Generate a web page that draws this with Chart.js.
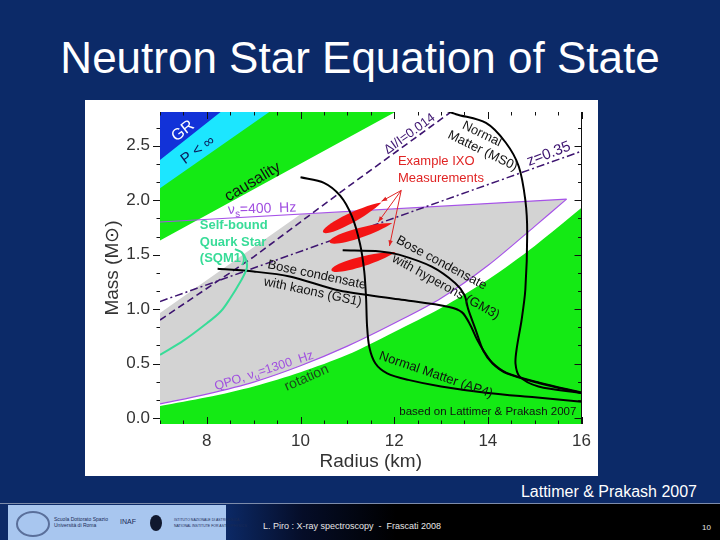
<!DOCTYPE html>
<html>
<head>
<meta charset="utf-8">
<title>Neutron Star Equation of State</title>
<script src="https://cdn.jsdelivr.net/npm/chart.js@4.4.1/dist/chart.umd.min.js"></script>
<style>
  html, body { margin:0; padding:0; }
  body { width:720px; height:540px; overflow:hidden; position:relative; background:#0c2a68; font-family:'Liberation Sans', Arial, sans-serif; }
  #title { position:absolute; left:0; top:33px; width:720px; text-align:center; color:#fff; font-size:44px; line-height:50px; }
  #panel { position:absolute; left:85px; top:100px; width:513px; height:376px; background:#fff; }
  #panel canvas { display:block; }
  #credit { position:absolute; right:23px; top:482px; color:#fff; font-size:16px; line-height:19px; }
  #footer { position:absolute; left:0; top:503px; width:720px; height:37px; box-sizing:border-box; border-top:1px solid #7d8cab;
            background:linear-gradient(90deg,#0c2a68 0%,#0c2a68 31%,#050d28 42%,#000 55%,#000 100%); }
  #logos { position:absolute; left:8px; top:505px; width:218px; height:35px; background:#a8c6ef; }
  .lg { position:absolute; color:#1a2a55; font-size:5px; line-height:6px; white-space:nowrap; }
  #foottext { position:absolute; left:263px; top:521px; color:#e6e6e6; font-size:9px; line-height:11px; white-space:nowrap; }
  #pagenum { position:absolute; left:702px; top:523px; color:#e6e6e6; font-size:8px; line-height:10px; }
</style>
</head>
<body>
<div id="title">Neutron Star Equation of State</div>
<div id="panel"><canvas id="c" width="513" height="376"></canvas></div>
<div id="credit">Lattimer &amp; Prakash 2007</div>
<div id="footer"></div>
<div id="logos">
  <div style="position:absolute;left:8px;top:6px;width:30px;height:22px;border:2px solid #5a6f9a;border-radius:50%;"></div>
  <div class="lg" style="left:46px;top:11px;">Scuola Dottorato Spazio<br>Università di Roma</div>
  <div class="lg" style="left:112px;top:14px;font-size:7px;">INAF</div>
  <div style="position:absolute;left:142px;top:10px;width:12px;height:16px;background:#10182e;border-radius:50%;"></div>
  <div class="lg" style="left:166px;top:12px;font-size:3.5px;">ISTITUTO NAZIONALE DI ASTROFISICA<br>NATIONAL INSTITUTE FOR ASTROPHYSICS</div>
</div>
<div id="foottext">L. Piro : X-ray spectroscopy &nbsp;- &nbsp;Frascati 2008</div>
<div id="pagenum">10</div>

<script>
// ---------------- data ----------------
const xTicks = [8, 10, 12, 14, 16];
const yTicks = [0.0, 0.5, 1.0, 1.5, 2.0, 2.5];

// excluded-region boundaries (Radius km, Mass Msun)
const grR = [7, 9.5],    grM = [2.37, 3.22];
const pinfR = [7, 10],   pinfM = [2.11, 3.01];
const causR = [7, 13],   causM = [1.63, 3.04];
const rotR = [7, 8, 9, 10, 11, 12, 13, 14, 15, 16];
const rotM = [0.11, 0.19, 0.29, 0.42, 0.58, 0.79, 1.01, 1.27, 1.58, 1.93];
// allowed (grey) region
const qpoR = [7, 8, 9, 10, 11, 12, 13, 14, 15, 15.68];
const qpoM = [0.13, 0.22, 0.33, 0.48, 0.66, 0.87, 1.10, 1.40, 1.76, 2.01];
const nuR = [7, 15.68],  nuM = [1.80, 2.01];
const greyTopR = [7, 10.0, 15.68], greyTopM = [0.965, 1.87, 2.01];
// constraint lines
const dIR = [7, 9, 11, 13.5], dIM = [0.90, 1.48, 2.12, 2.90];
const zR = [7, 16], zM = [1.07, 2.45];
// equations of state
const sqmR = [7.0, 7.5, 8.0, 8.3, 8.5, 8.7, 8.85, 8.84, 8.75, 8.6];
const sqmM = [0.58, 0.71, 0.87, 0.98, 1.10, 1.24, 1.37, 1.45, 1.52, 1.55];
const gs1R = [8.23, 9.0, 9.77, 10.83, 12.1, 13.17, 13.45, 13.63, 13.77, 13.92, 14.1, 14.4, 15.1, 16.0];
const gs1M = [1.37, 1.345, 1.30, 1.17, 1.09, 1.02, 0.97, 0.85, 0.72, 0.61, 0.505, 0.415, 0.325, 0.235];
const gm3R = [10.9, 11.7, 12.1, 12.8, 13.3, 13.5, 13.58, 13.74, 13.9, 14.1, 14.4, 15.1, 16.0];
const gm3M = [1.54, 1.53, 1.50, 1.39, 1.24, 1.13, 1.00, 0.81, 0.62, 0.50, 0.41, 0.32, 0.23];
const ms0R = [13.0, 13.32, 13.96, 14.38, 14.66, 14.8, 14.84, 14.8, 14.72, 14.62, 14.59, 14.68, 15.08, 16.0];
const ms0M = [2.84, 2.79, 2.71, 2.53, 2.31, 2.0, 1.7, 1.18, 0.9, 0.65, 0.5, 0.38, 0.29, 0.23];
const ap4R = [10.0, 10.5, 10.85, 11.1, 11.27, 11.36, 11.4, 11.42, 11.47, 11.6, 11.85, 12.3, 13.0, 14.0, 15.0, 16.0];
const ap4M = [2.21, 2.16, 2.04, 1.85, 1.6, 1.35, 1.1, 0.85, 0.65, 0.5, 0.41, 0.35, 0.29, 0.23, 0.19, 0.15];
// example IXO measurements: ends of each error ellipse
const ixoR1 = [10.48, 10.62, 10.66], ixoM1 = [1.707, 1.616, 1.357];
const ixoR2 = [11.73, 11.96, 12.03], ixoM2 = [1.98, 1.79, 1.524];
const arrowR0 = 12.15, arrowM0 = 2.09;
const arrowR = [11.73, 11.66, 11.90], arrowM = [1.99, 1.80, 1.58];

// ---------------- styling ----------------
const FONT = "'Liberation Sans', Arial, Helvetica, sans-serif";
const C = { blue:'#1232d8', cyan:'#1ce6ff', green:'#14ea14', grey:'#d3d3d3', violet:'#a652e8',
            dark:'#3d1470', teal:'#38dc98', red:'#f41414', text:'#111' };

const pts = (R, M) => R.map((r, i) => ({ x: r, y: M[i] }));
const base = { showLine: true, pointRadius: 0, pointHoverRadius: 0, fill: false, tension: 0 };

const datasets = [
  { ...base, label: 'SQM1', data: pts(sqmR, sqmM), borderColor: C.teal, borderWidth: 2, tension: 0.35 },
  { ...base, label: 'GS1', data: pts(gs1R, gs1M), borderColor: '#000', borderWidth: 2, tension: 0.3 },
  { ...base, label: 'GM3', data: pts(gm3R, gm3M), borderColor: '#000', borderWidth: 2, tension: 0.3 },
  { ...base, label: 'MS0', data: pts(ms0R, ms0M), borderColor: '#000', borderWidth: 2, tension: 0.3 },
  { ...base, label: 'AP4', data: pts(ap4R, ap4M), borderColor: '#000', borderWidth: 2, tension: 0.3 },
  { ...base, label: 'z=0.35', data: pts(zR, zM), borderColor: C.dark, borderWidth: 1.5, borderDash: [8, 3, 2, 3] },
  { ...base, label: 'dI/I=0.014', data: pts(dIR, dIM), borderColor: C.dark, borderWidth: 1.6, borderDash: [7, 4] },
  { ...base, label: 'QPO 1300 Hz', data: pts(qpoR, qpoM), borderColor: C.violet, borderWidth: 1.2, tension: 0.3 },
  { ...base, label: 'spin 400 Hz', data: pts(nuR, nuM), borderColor: C.violet, borderWidth: 1.2 },
  { ...base, label: 'GR', data: pts(grR, grM), borderColor: 'transparent', borderWidth: 0, fill: 'end', backgroundColor: C.blue },
  { ...base, label: 'P<inf', data: pts(pinfR, pinfM), borderColor: 'transparent', borderWidth: 0, fill: 'end', backgroundColor: C.cyan },
  { ...base, label: 'causality', data: pts(causR, causM), borderColor: 'transparent', borderWidth: 0, fill: 'end', backgroundColor: C.green },
  { ...base, label: 'rotation', data: pts(rotR, rotM), borderColor: 'transparent', borderWidth: 0, fill: 'start', backgroundColor: C.green, tension: 0.3 },
  { ...base, label: 'allowed', data: pts(greyTopR, greyTopM), borderColor: 'transparent', borderWidth: 0, fill: 7, backgroundColor: C.grey }
];

const labels = [
  { t: 'GR', r: 7.49, m: 2.635, rot: -38, size: 16, color: '#ffffff' },
  { t: 'P < \u221E', r: 7.81, m: 2.46, rot: -36, size: 15, color: '#0a1a5a' },
  { t: 'causality', r: 8.98, m: 2.167, rot: -31, size: 16, color: C.text },
  { segs: [{ t: '\u03BD' }, { t: 's', sub: 1 }, { t: '=400  Hz' }], r: 9.18, m: 1.92, rot: -2, size: 14, color: '#a04ee0' },
  { t: 'Self-bound', r: 7.85, m: 1.772, size: 13, bold: 1, align: 'left', color: C.teal },
  { t: 'Quark Star', r: 7.85, m: 1.612, size: 13, bold: 1, align: 'left', color: C.teal },
  { t: '(SQM1)', r: 7.85, m: 1.465, size: 13, bold: 1, align: 'left', color: C.teal },
  { t: 'Bose condensate', r: 10.35, m: 1.313, rot: 12, size: 13, color: C.text },
  { t: 'with kaons (GS1)', r: 10.26, m: 1.157, rot: 12, size: 13, color: C.text },
  { t: 'Bose condensate', r: 13.01, m: 1.423, rot: 28, size: 13, color: C.text },
  { t: 'with hyperons (GM3)', r: 13.10, m: 1.203, rot: 29, size: 13, color: C.text },
  { t: 'Normal Matter (AP4)', r: 12.89, m: 0.395, rot: 19, size: 13, color: C.text },
  { t: 'rotation', r: 10.13, m: 0.367, rot: -24, size: 14, color: '#1b4a1b' },
  { segs: [{ t: 'QPO, \u03BD' }, { t: 'u', sub: 1 }, { t: '=1300  Hz' }], r: 9.22, m: 0.432, rot: -18, size: 12.5, color: '#a04ee0' },
  { t: 'Normal', r: 13.87, m: 2.608, rot: 26, size: 13, color: C.text },
  { t: 'Matter (MS0)', r: 13.89, m: 2.452, rot: 26, size: 13, color: C.text },
  { t: '\u0394I/I=0.014', r: 12.33, m: 2.608, rot: -36, size: 13, color: C.dark },
  { t: 'z=0.35', r: 15.30, m: 2.424, rot: -21, size: 15, color: C.dark },
  { t: 'Example IXO', r: 12.08, m: 2.36, size: 13, align: 'left', color: '#e02424' },
  { t: 'Measurements', r: 12.08, m: 2.204, size: 13, align: 'left', color: '#e02424' },
  { t: 'based on Lattimer & Prakash 2007', r: 15.89, m: 0.055, size: 11.5, align: 'right', color: C.text }
];

function drawLabel(ctx, L, xs, ys) {
  const x = xs.getPixelForValue(L.r), y = ys.getPixelForValue(L.m);
  ctx.save();
  ctx.translate(x, y);
  ctx.rotate((L.rot || 0) * Math.PI / 180);
  const w8 = L.bold ? 'bold ' : '';
  const fMain = w8 + L.size + 'px ' + FONT;
  const fSub = w8 + Math.round(L.size * 0.68) + 'px ' + FONT;
  const segs = (L.segs || [{ t: L.t }]).map(s => ({ ...s }));
  let w = 0;
  segs.forEach(s => { ctx.font = s.sub ? fSub : fMain; s.w = ctx.measureText(s.t).width; w += s.w; });
  let x0 = L.align === 'left' ? 0 : (L.align === 'right' ? -w : -w / 2);
  ctx.textAlign = 'left';
  ctx.textBaseline = 'middle';
  ctx.fillStyle = L.color;
  segs.forEach(s => {
    ctx.font = s.sub ? fSub : fMain;
    ctx.fillText(s.t, x0, s.sub ? L.size * 0.32 : 0);
    x0 += s.w;
  });
  ctx.restore();
}

function drawEllipses(chart) {
  const { ctx, scales: { x, y }, chartArea: a } = chart;
  ctx.save();
  ctx.beginPath(); ctx.rect(a.left, a.top, a.width, a.height); ctx.clip();
  ctx.fillStyle = C.red;
  for (let i = 0; i < ixoR1.length; i++) {
    const x1 = x.getPixelForValue(ixoR1[i]), y1 = y.getPixelForValue(ixoM1[i]);
    const x2 = x.getPixelForValue(ixoR2[i]), y2 = y.getPixelForValue(ixoM2[i]);
    const L = Math.hypot(x2 - x1, y2 - y1), ang = Math.atan2(y2 - y1, x2 - x1), w = 5;
    ctx.save();
    ctx.translate((x1 + x2) / 2, (y1 + y2) / 2);
    ctx.rotate(ang);
    ctx.beginPath();
    ctx.moveTo(L / 2, 0);
    ctx.bezierCurveTo(L / 6, -w * 1.4, -L / 2, -w * 1.3, -L / 2, 0);
    ctx.bezierCurveTo(-L / 2, w * 1.3, L / 6, w * 1.4, L / 2, 0);
    ctx.closePath();
    ctx.fill();
    ctx.restore();
  }
  ctx.restore();
}

function drawArrows(chart) {
  const { ctx, scales: { x, y } } = chart;
  const x0 = x.getPixelForValue(arrowR0), y0 = y.getPixelForValue(arrowM0);
  ctx.save();
  ctx.strokeStyle = '#e02424'; ctx.fillStyle = '#e02424'; ctx.lineWidth = 1;
  for (let i = 0; i < arrowR.length; i++) {
    const x1 = x.getPixelForValue(arrowR[i]), y1 = y.getPixelForValue(arrowM[i]);
    ctx.beginPath(); ctx.moveTo(x0, y0); ctx.lineTo(x1, y1); ctx.stroke();
    const a = Math.atan2(y1 - y0, x1 - x0), h = 6;
    ctx.beginPath();
    ctx.moveTo(x1, y1);
    ctx.lineTo(x1 - h * Math.cos(a - 0.38), y1 - h * Math.sin(a - 0.38));
    ctx.lineTo(x1 - h * Math.cos(a + 0.38), y1 - h * Math.sin(a + 0.38));
    ctx.closePath(); ctx.fill();
  }
  ctx.restore();
}

function drawFrame(chart) {
  const { ctx, chartArea: a, scales: { x, y } } = chart;
  ctx.save();
  ctx.strokeStyle = '#111'; ctx.lineWidth = 1;
  ctx.beginPath();
  ctx.moveTo(Math.round(a.right) - 0.5, a.top); ctx.lineTo(Math.round(a.right) - 0.5, a.bottom);
  // x ticks every 0.5 km (major at labelled values), inside bottom and top
  for (let k = 0; ; k++) {
    const v = x.min + k * 0.5;
    if (v > x.max + 1e-9) break;
    const px = Math.round(x.getPixelForValue(v)) + 0.5;
    const len = xTicks.includes(v) ? 7 : 3.5;
    ctx.moveTo(px, a.bottom); ctx.lineTo(px, a.bottom - len);
    ctx.moveTo(px, a.top); ctx.lineTo(px, a.top + len);
  }
  // y ticks: major at labelled values, two minor between
  for (let k = 0; ; k++) {
    const v = k * 0.5 / 3;
    if (v > y.max + 1e-9) break;
    const py = Math.round(y.getPixelForValue(v)) + 0.5;
    const len = (k % 3 === 0) ? 7 : 3.5;
    ctx.moveTo(a.left, py); ctx.lineTo(a.left - len, py);
    ctx.moveTo(a.right, py); ctx.lineTo(a.right - len, py);
  }
  ctx.stroke();
  ctx.restore();
}

const deco = {
  id: 'deco',
  afterDatasetDraw(chart, args) {
    if (args.index === 5) drawEllipses(chart);
  },
  afterDatasetsDraw(chart) {
    drawArrows(chart);
    const { ctx, scales: { x, y }, chartArea: a } = chart;
    ctx.save();
    ctx.beginPath(); ctx.rect(a.left, a.top, a.width, a.height); ctx.clip();
    labels.forEach(L => drawLabel(ctx, L, x, y));
    ctx.restore();
    drawFrame(chart);
  }
};

new Chart(document.getElementById('c'), {
  type: 'scatter',
  data: { datasets },
  plugins: [deco],
  options: {
    responsive: false,
    animation: false,
    events: [],
    layout: { padding: { left: 0, right: 16, top: 12, bottom: 0 } },
    plugins: { legend: { display: false }, tooltip: { enabled: false }, title: { display: false } },
    scales: {
      x: {
        type: 'linear', position: 'bottom', min: 7, max: 16,
        grid: { display: false, drawTicks: false }, border: { display: false },
        afterBuildTicks: s => { s.ticks = xTicks.map(v => ({ value: v })); },
        afterFit: s => { s.height = 52; s.paddingLeft = 0; },
        ticks: { autoSkip: false, maxRotation: 0, padding: 7, color: '#333', font: { family: FONT, size: 17 },
                 callback: v => String(v) },
        title: { display: true, text: 'Radius (km)', color: '#333', font: { family: FONT, size: 19 },
                 padding: { top: 0, bottom: 3 } }
      },
      y: {
        type: 'linear', position: 'left', min: -0.055, max: 2.81,
        grid: { display: false, drawTicks: false }, border: { display: false },
        afterBuildTicks: s => { s.ticks = yTicks.map(v => ({ value: v })); },
        afterFit: s => { s.width = 75; s.paddingTop = 0; s.paddingBottom = 0; },
        ticks: { autoSkip: false, padding: 10, color: '#333', font: { family: FONT, size: 17 },
                 callback: v => Number(v).toFixed(1) },
        title: { display: true, text: 'Mass (M\u2299)', color: '#333', font: { family: FONT, size: 19 },
                 padding: { top: 16, bottom: 0 } }
      }
    }
  }
});
</script>
</body>
</html>
